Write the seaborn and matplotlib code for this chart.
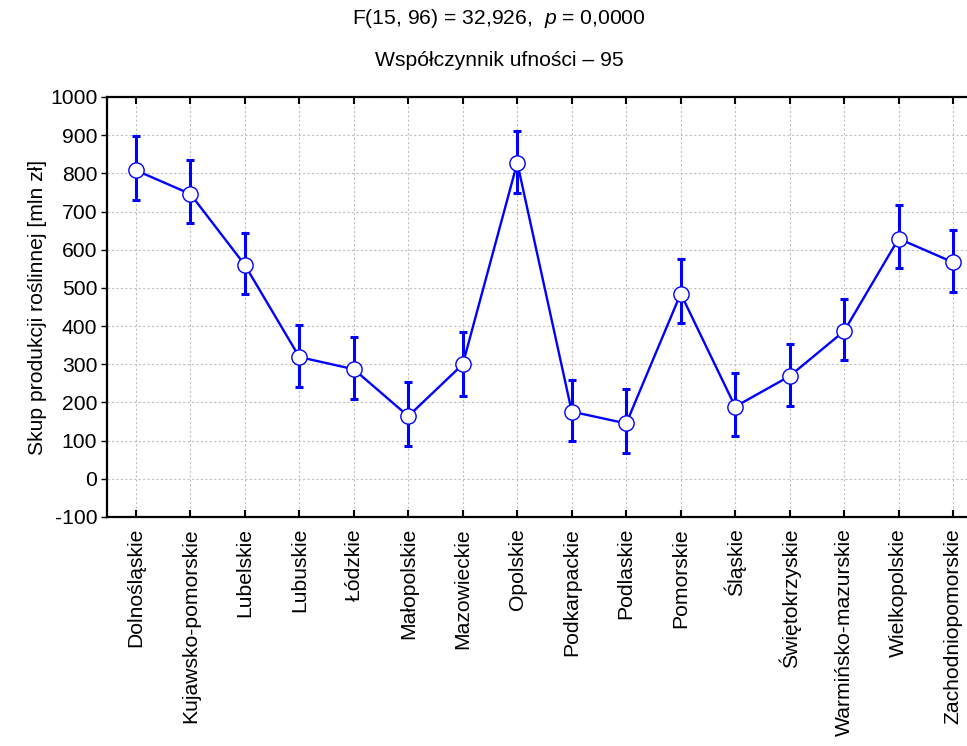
import matplotlib
matplotlib.use("Agg")
import matplotlib.pyplot as plt
import seaborn as sns
import numpy as np
import pandas as pd

regions = ["Dolnośląskie", "Kujawsko-pomorskie", "Lubelskie", "Lubuskie", "Łódzkie",
           "Małopolskie", "Mazowieckie", "Opolskie", "Podkarpackie", "Podlaskie",
           "Pomorskie", "Śląskie", "Świętokrzyskie", "Warmińsko-mazurskie",
           "Wielkopolskie", "Zachodniopomorskie"]
means = [808, 746, 560, 319, 287, 164, 300, 828, 176, 145, 485, 189, 269, 387, 629, 567]
lower = [731, 669, 484, 241, 210, 86, 217, 749, 99, 67, 409, 111, 191, 310, 551, 490]
upper = [899, 835, 644, 403, 371, 254, 384, 911, 260, 236, 576, 278, 354, 471, 718, 651]
yticks = [-100, 0, 100, 200, 300, 400, 500, 600, 700, 800, 900, 1000]

sns.set_style("white")
plt.rcParams['font.family'] = ['Liberation Sans', 'DejaVu Sans']
plt.rcParams['mathtext.fontset'] = 'custom'
plt.rcParams['mathtext.it'] = 'Liberation Sans:italic'
plt.rcParams['mathtext.rm'] = 'Liberation Sans'
plt.rcParams['text.color'] = 'black'
plt.rcParams['axes.labelcolor'] = 'black'
plt.rcParams['xtick.color'] = 'black'
plt.rcParams['ytick.color'] = 'black'

FS = 15.2

df = pd.DataFrame({"pos": np.arange(len(regions)), "region": regions, "mean": means,
                   "lower": lower, "upper": upper})

fig = plt.figure(figsize=(9.67, 7.46), dpi=100)
ax = fig.add_axes([107/967, 1 - 517/746, 1 - 107/967 + 0.002, 420/746])

blue = "#0000FF"
ax.errorbar(df["pos"], df["mean"],
            yerr=[df["mean"] - df["lower"], df["upper"] - df["mean"]],
            fmt="none", ecolor=blue, elinewidth=2.2, capsize=3, capthick=2.2, zorder=2)
sns.lineplot(data=df, x="pos", y="mean", ax=ax, color=blue, linewidth=1.7,
             marker="o", markersize=11, markerfacecolor="white",
             markeredgecolor=blue, markeredgewidth=1.0, zorder=3)

ax.set_xlim(-0.53, 15.29)
ax.set_ylim(-100, 1000)
ax.set_yticks(yticks)
ax.set_yticklabels([str(t) for t in yticks], fontsize=FS)
ax.set_xticks(df["pos"])
ax.set_xticklabels(regions, rotation=90, fontsize=FS)
ax.set_xlabel("")
ax.set_ylabel("Skup produkcji roślinnej [mln zł]", fontsize=FS, labelpad=2)

ax.grid(True, color="#c0c0c0", linestyle=(0, (2, 2)), linewidth=0.8)
ax.set_axisbelow(True)
for s in ["left", "bottom", "top"]:
    ax.spines[s].set_visible(True)
    ax.spines[s].set_color("black")
    ax.spines[s].set_linewidth(1.6)
ax.spines["right"].set_visible(False)
ax.tick_params(axis="x", direction="in", length=5, width=1.5, top=True, bottom=True,
               pad=8, colors="black")
ax.tick_params(axis="y", direction="out", length=4, width=1.0, left=True, pad=3,
               colors="black")

fig.text(499/967, 1 - 18/746, r"F(15, 96) = 32,926,  $\it{p}$ = 0,0000",
         ha="center", va="center", fontsize=FS, color="black")
fig.text(499/967, 1 - 60/746, "Współczynnik ufności – 95",
         ha="center", va="center", fontsize=FS, color="black")

fig.savefig("out.png", dpi=100)
